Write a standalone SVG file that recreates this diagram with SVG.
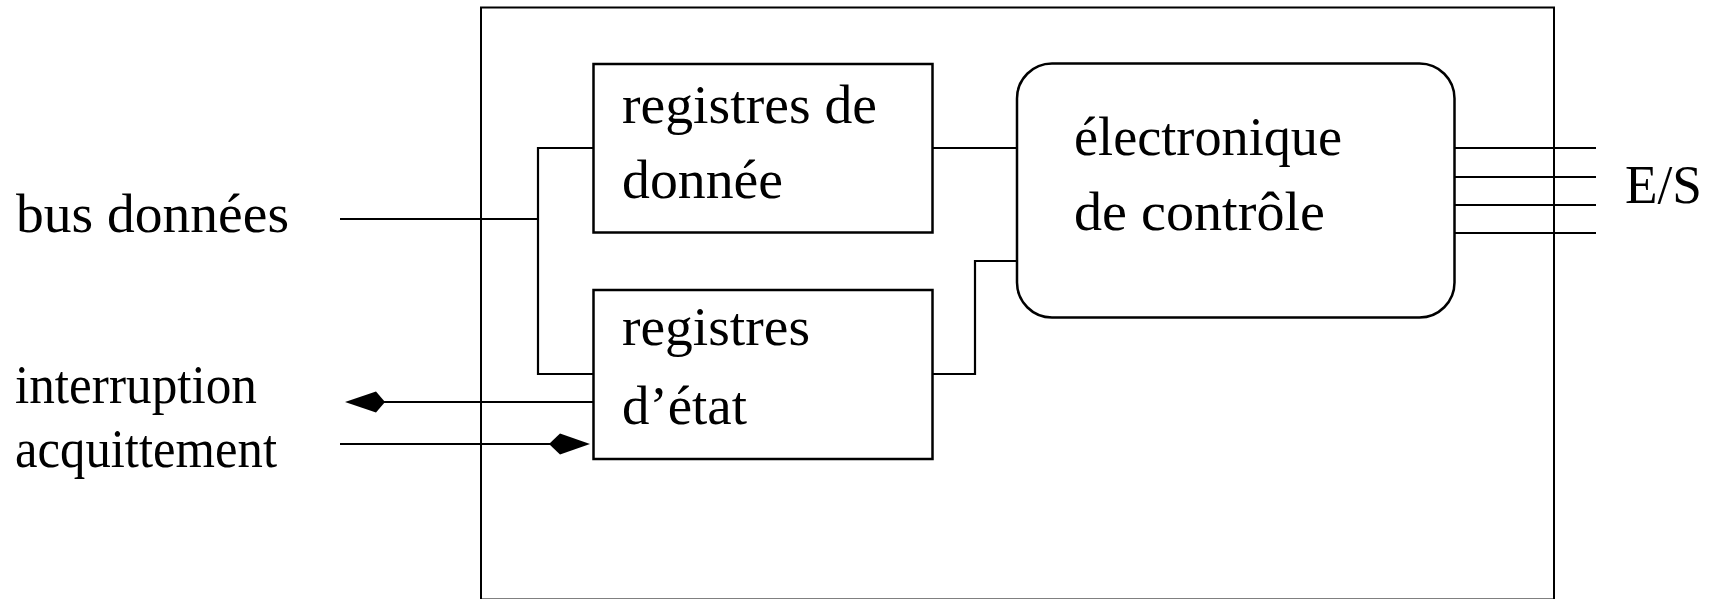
<svg xmlns="http://www.w3.org/2000/svg" width="1725" height="599" viewBox="0 0 1725 599">
  <style>
    .box { fill: #fff; stroke: #000; stroke-width: 2.5; }
    .frame { fill: none; stroke: #000; stroke-width: 2; }
    .wire { fill: none; stroke: #000; stroke-width: 2.2; }
    .head { fill: #000; stroke: none; }
    text { font-family: "Liberation Serif", "Times New Roman", serif; font-size: 55px; fill: #000; }
  </style>
  <rect width="1725" height="599" fill="#fff"/>

  <!-- peripheral enclosure -->
  <g id="enclosure">
    <rect class="frame" x="481" y="7.5" width="1073" height="592"/>
  </g>

  <!-- external signal labels -->
  <g id="label-bus"><text x="16" y="232" textLength="273" lengthAdjust="spacingAndGlyphs">bus données</text></g>
  <g id="label-interruption"><text x="15" y="403" textLength="242" lengthAdjust="spacingAndGlyphs">interruption</text></g>
  <g id="label-acquittement"><text x="15" y="467" textLength="262" lengthAdjust="spacingAndGlyphs">acquittement</text></g>
  <g id="label-es"><text x="1625" y="203" textLength="77" lengthAdjust="spacingAndGlyphs">E/S</text></g>

  <!-- connectors -->
  <g id="connectors">
    <path class="wire" d="M340,219 H538"/>
    <path class="wire" d="M593,148 H538 V374 H593"/>
    <path class="wire" d="M933,148 H1017"/>
    <path class="wire" d="M933,374 H975 V261 H1017"/>
    <path class="wire" d="M1455,148 H1596 M1455,177 H1596 M1455,205 H1596 M1455,233 H1596"/>
    <path class="wire" d="M593,402 H383"/>
    <path class="head" d="M345,402 L376,391.5 L385,402 L376,412.5 Z"/>
    <path class="wire" d="M340,444 H550"/>
    <path class="head" d="M590,444 L560,433.5 L549,444 L560,454.5 Z"/>
  </g>

  <g id="registres-donnee">
    <rect class="box" x="593.5" y="64" width="339" height="168.5"/>
    <text x="622" y="123" textLength="255" lengthAdjust="spacingAndGlyphs">registres de</text>
    <text x="622" y="198" textLength="161" lengthAdjust="spacingAndGlyphs">donnée</text>
  </g>

  <g id="registres-etat">
    <rect class="box" x="593.5" y="290" width="339" height="169"/>
    <text x="622" y="345" textLength="188" lengthAdjust="spacingAndGlyphs">registres</text>
    <text x="622" y="424" textLength="125" lengthAdjust="spacingAndGlyphs">d’état</text>
  </g>

  <g id="electronique-controle">
    <rect class="box" x="1017" y="63.5" width="437.5" height="254" rx="35" ry="35"/>
    <text x="1074" y="155" textLength="268" lengthAdjust="spacingAndGlyphs">électronique</text>
    <text x="1074" y="230" textLength="251" lengthAdjust="spacingAndGlyphs">de contrôle</text>
  </g>
</svg>
